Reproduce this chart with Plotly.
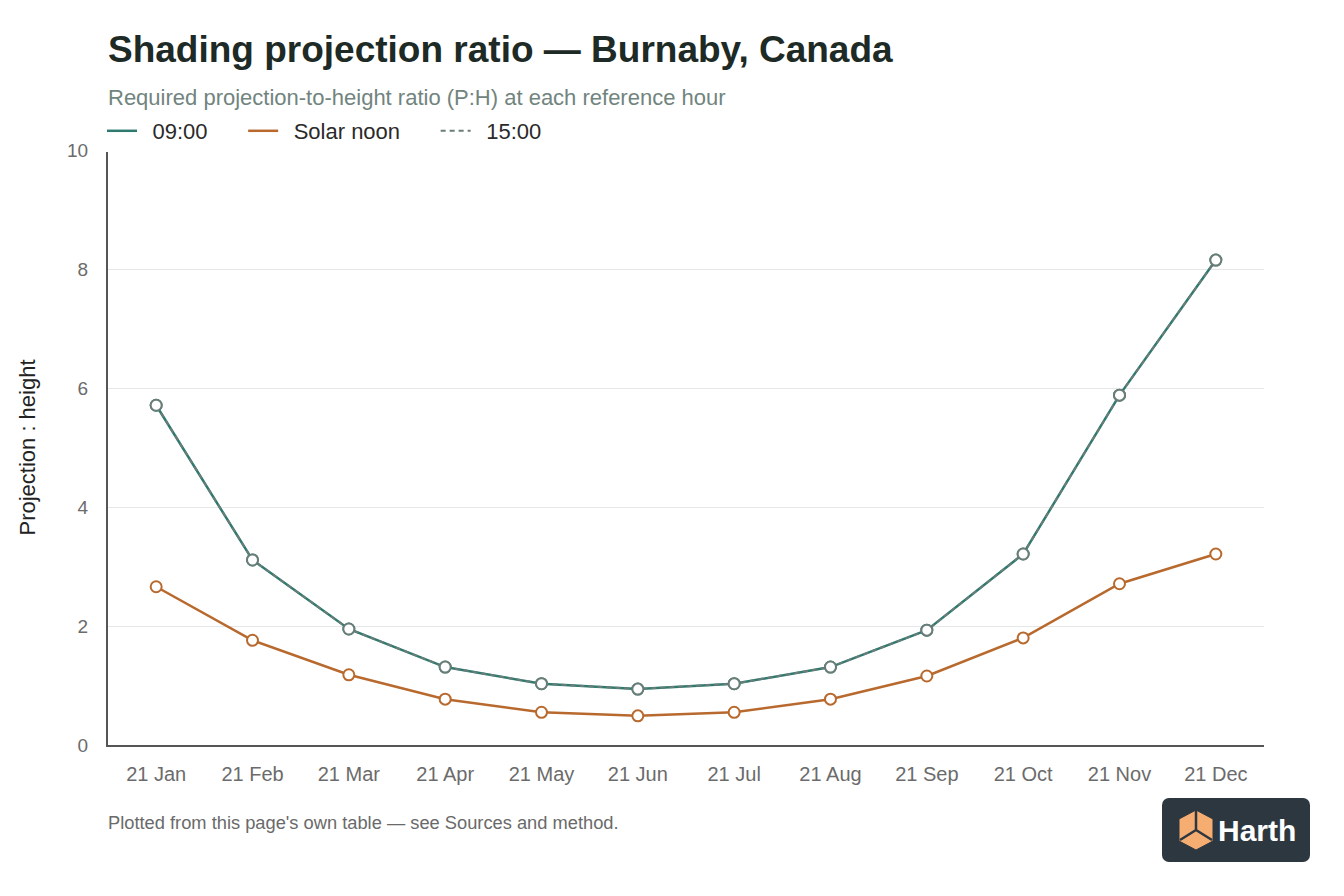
import base64
import plotly.graph_objects as go

# data
months = ["21 Jan", "21 Feb", "21 Mar", "21 Apr", "21 May", "21 Jun",
          "21 Jul", "21 Aug", "21 Sep", "21 Oct", "21 Nov", "21 Dec"]
ratio_0900 = [5.71, 3.11, 1.95, 1.31, 1.03, 0.94, 1.03, 1.31, 1.93, 3.21, 5.88, 8.15]
ratio_noon = [2.66, 1.76, 1.18, 0.77, 0.55, 0.49, 0.55, 0.77, 1.16, 1.80, 2.71, 3.21]
ratio_1500 = [5.71, 3.11, 1.95, 1.31, 1.03, 0.94, 1.03, 1.31, 1.93, 3.21, 5.88, 8.15]
y_ticks = [0, 2, 4, 6, 8, 10]

TEAL = "#2f7a6f"
ORANGE = "#b8692d"
GREY = "#6b7d78"
FONT = "Liberation Sans, Arial, sans-serif"
NB = "\u00a0"
PAD = NB + "\u2009"

# page has an 8px body margin, so the figure is a bit smaller than the window
OFF = 8
W, H = 1344 - OFF, 896 - OFF
L, T = 108 - OFF, 150 - OFF
PW, PH = 1156, 595
R, B = W - L - PW, H - T - PH


def px(x):
    return (x - OFF - L) / PW


def py(y):
    return (H - B - (y - OFF)) / PH


fig = go.Figure()

# lines (legend entries)
fig.add_trace(go.Scatter(x=months, y=ratio_0900, name=PAD + "09:00" + NB * 5, mode="lines",
                         line=dict(color=TEAL, width=2.5)))
fig.add_trace(go.Scatter(x=months, y=ratio_noon, name=PAD + "Solar noon" + NB * 5, mode="lines",
                         line=dict(color=ORANGE, width=2.5)))
fig.add_trace(go.Scatter(x=months, y=ratio_1500, name=PAD + "15:00", mode="lines",
                         line=dict(color=GREY, width=2, dash="5px,4px")))

# hollow markers on top
for vals, col in [(ratio_0900, TEAL), (ratio_noon, ORANGE), (ratio_1500, GREY)]:
    fig.add_trace(go.Scatter(x=months, y=vals, mode="markers", showlegend=False,
                             marker=dict(size=11, color="white",
                                         line=dict(color=col, width=2))))

# Harth logo badge
svg = """<svg xmlns='http://www.w3.org/2000/svg' width='148' height='64' viewBox='0 0 148 64'>
<rect x='0' y='0' width='148' height='64' rx='7' ry='7' fill='#2c3740'/>
<polygon points='34,12 51,21 51,43 34,52 17,43 17,21' fill='#f6ad72'/>
<path d='M34,12 L34,32 M34,32 L18,42 M34,32 L50,42' stroke='#2c3740' stroke-width='2.5' fill='none'/>
<path d='M34,12 L51,21 51,43 34,52 17,43 17,21 Z' stroke='#2c3740' stroke-width='1' fill='none'/>
</svg>"""
logo = "data:image/svg+xml;base64," + base64.b64encode(svg.encode()).decode()
fig.add_layout_image(dict(source=logo, xref="paper", yref="paper",
                          x=px(1162), y=py(798), sizex=148 / PW, sizey=64 / PH,
                          xanchor="left", yanchor="top", sizing="stretch", layer="above"))

annotations = [
    dict(text="<b>Shading projection ratio — Burnaby, Canada</b>", x=px(106), y=py(50),
         font=dict(size=37, color="#1d2a25", family=FONT)),
    dict(text="Required projection-to-height ratio (P:H) at each reference hour", x=px(106), y=py(97),
         font=dict(size=22, color="#71847e", family=FONT)),
    dict(text="Plotted from this page's own table — see Sources and method.", x=px(106), y=py(822),
         font=dict(size=18.3, color="#6a6a6a", family=FONT)),
    dict(text="<b>Harth</b>", x=px(1216), y=py(830),
         font=dict(size=30, color="white", family=FONT)),
]
for a in annotations:
    a.update(xref="paper", yref="paper", xanchor="left", yanchor="middle", showarrow=False)

fig.update_layout(
    width=W, height=H,
    margin=dict(l=L, r=R, t=T, b=B),
    paper_bgcolor="white", plot_bgcolor="white",
    font=dict(family=FONT, color="#333"),
    annotations=annotations,
    legend=dict(orientation="h", x=px(102), y=py(131), xanchor="left", yanchor="middle",
                font=dict(size=22, color="#2a2a2a"), itemwidth=30, tracegroupgap=0),
    xaxis=dict(range=[-0.5, len(months) - 0.5], showgrid=False, showline=True,
               linecolor="#555", linewidth=2,
               ticks="", tickfont=dict(size=20, color="#6b6b6b"), ticklabelstandoff=10),
    yaxis=dict(range=[0, 10], tickvals=y_ticks, showgrid=True, gridcolor="#e6e8e7",
               zeroline=False, showline=True, linecolor="#555", linewidth=2,
               tickfont=dict(size=19, color="#6b6b6b"), ticklabelstandoff=14,
               title=dict(text="Projection : height", font=dict(size=22, color="#222"),
                          standoff=25)),
)

fig.write_html("out.html")
